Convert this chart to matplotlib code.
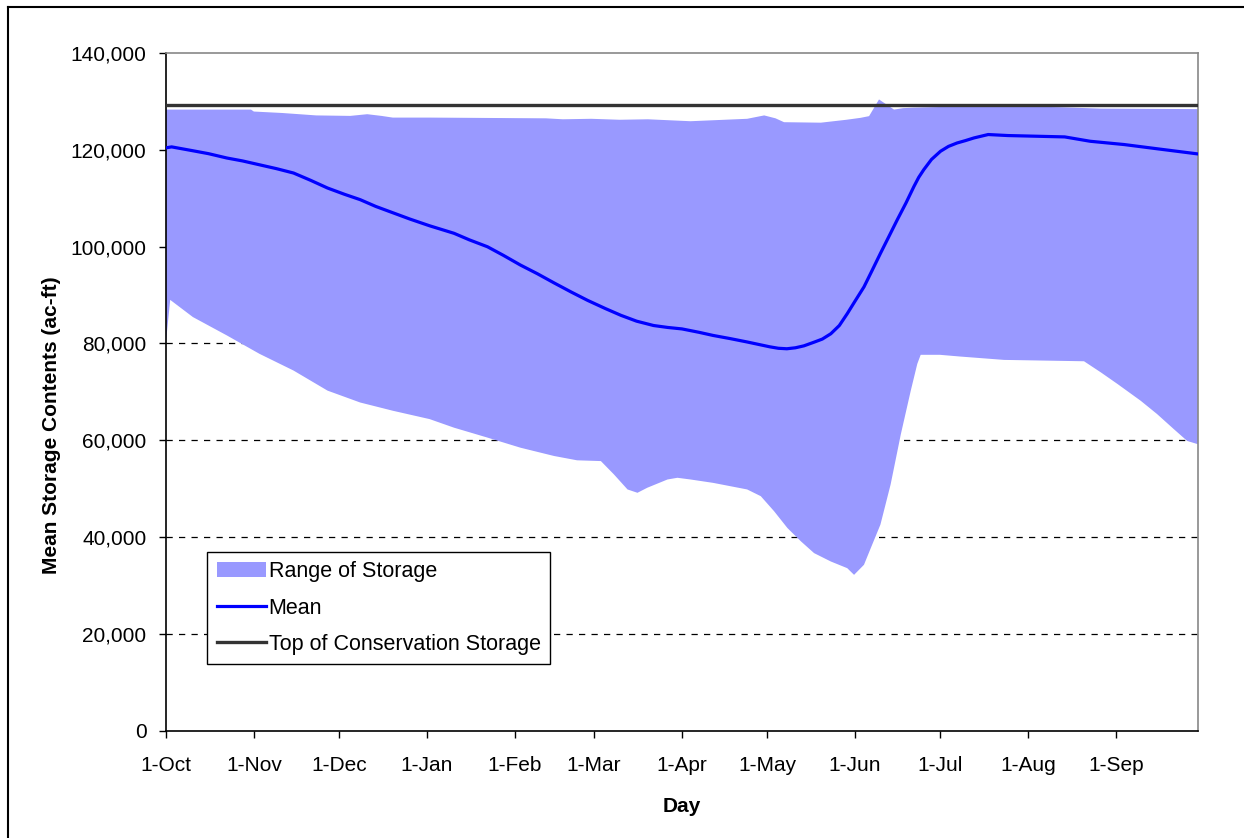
import matplotlib
matplotlib.use("Agg")
import matplotlib.pyplot as plt
from matplotlib.lines import Line2D
from matplotlib.ticker import FuncFormatter
import numpy as np

plt.rcParams['font.family'] = ['Liberation Sans', 'DejaVu Sans']

# DATOS ------------------------------------------
# dia 0 = 1-Oct
sup_dia = [0, 30, 31, 41, 53, 65, 71, 76, 80, 93, 134, 140, 150, 160, 170, 185,
           193, 205, 211, 215, 218, 231, 240, 245, 248, 251.5, 256.8, 260,
           263.8, 276.8, 300, 315, 329.7, 364]
sup_val = [128300, 128300, 127900, 127600, 127100, 127000, 127350, 127000,
           126650, 126650, 126500, 126300, 126400, 126200, 126300, 125900,
           126100, 126400, 127100, 126500, 125700, 125600, 126200, 126600,
           126950, 130400, 128300, 128600, 128700, 128900, 129000, 128800,
           128500, 128400]

inf_dia = [0, 1.5, 9.5, 21.5, 33, 45, 57, 68.5, 80, 93, 101.6, 113.4, 125,
           136.9, 145, 153.4, 158, 162.8, 166.3, 169.8, 176.9, 180.4, 185, 193,
           205, 209.8, 214.5, 219.2, 224, 228.6, 234.5, 240.3, 242.7, 246.2,
           248.6, 252, 255.6, 259.2, 262.7, 265, 266.2, 273, 280, 295.6, 323.8,
           329.7, 335.6, 343.8, 349.6, 355.5, 360.2, 364]
inf_val = [80300, 89000, 85450, 81650, 77850, 74400, 70250, 67800, 66100,
           64370, 62600, 60550, 58470, 56750, 55860, 55700, 52950, 49840,
           49150, 50200, 51900, 52250, 51900, 51200, 49840, 48450, 45340,
           41870, 39100, 36690, 34960, 33580, 32200, 34280, 37730, 42580,
           50880, 61250, 70240, 75780, 77650, 77650, 77300, 76600, 76320,
           74040, 71630, 68160, 65400, 62290, 59860, 59180]

media_dia = [0, 2, 9.5, 15, 21.5, 27, 33, 39, 45, 51, 57, 63, 68.5, 74, 80,
             86, 93, 101.6, 107, 113.4, 119, 125, 131, 136.9, 143, 148.7, 155,
             160.5, 166, 172, 177, 182, 188, 193, 199, 205, 209, 213, 216, 219,
             222, 225, 228.6, 231.5, 234.5, 237.5, 240.3, 243, 246.2, 249, 252,
             255, 257.9, 261, 263.8, 265.5, 267.3, 270, 273.2, 276, 279, 282,
             285, 290, 297, 317, 326, 338, 350, 364]
media_val = [120400, 120600, 119800, 119200, 118300, 117700, 116900, 116100,
             115200, 113700, 112100, 110800, 109700, 108300, 107000, 105700,
             104300, 102750, 101400, 99970, 98200, 96200, 94400, 92500, 90600,
             88900, 87200, 85800, 84600, 83700, 83300, 83000, 82300, 81650,
             81000, 80300, 79800, 79300, 79000, 78900, 79100, 79500, 80260,
             80900, 82000, 83700, 86150, 88700, 91680, 95000, 98600, 102100,
             105500, 109000, 112400, 114300, 115900, 118000, 119700, 120700,
             121400, 121900, 122450, 123150, 122940, 122660, 121760, 121080,
             120180, 119140]

conservacion = 129300

mes_dia = [0, 31, 61, 92, 123, 151, 182, 212, 243, 273, 304, 335]
mes_txt = ['1-Oct', '1-Nov', '1-Dec', '1-Jan', '1-Feb', '1-Mar', '1-Apr',
           '1-May', '1-Jun', '1-Jul', '1-Aug', '1-Sep']

y_ticks = np.arange(0, 140001, 20000)

# GRAFICA ---------------------
fig = plt.figure(figsize=(12.44, 8.38), dpi=100)
ax = fig.add_axes([0.1334, 0.128, 0.8296, 0.8088])

# lineas de division (sin la de 0 ni la de 140,000)
ax.hlines(y_ticks[1:-1], 0, 364, colors='black', lw=0.9,
          linestyles=[(0, (5, 5))], zorder=1)

# area entre maximo y minimo
xs = np.r_[np.array(sup_dia), np.array(inf_dia)[::-1]]
ys = np.r_[np.array(sup_val), np.array(inf_val)[::-1]]
ax.fill(xs, ys, color='#9999FF', lw=0, label='Range of Storage', zorder=2)

ax.plot(media_dia, media_val, color='#0000FF', lw=2.3, label='Mean', zorder=3)
ax.axhline(conservacion, color='#333333', lw=2.4,
           label='Top of Conservation Storage', zorder=4)

ax.set_xlim(0, 364)
ax.set_ylim(0, 140000)
ax.set_yticks(y_ticks)
ax.yaxis.set_major_formatter(FuncFormatter(lambda v, p: '{:,.0f}'.format(v)))
ax.set_xticks(mes_dia)
ax.set_xticklabels(mes_txt)

ax.tick_params(axis='both', direction='out', length=5, width=1,
               labelsize=15, colors='black')
ax.tick_params(axis='x', pad=13)
ax.tick_params(axis='y', pad=9)

for s in ['left', 'bottom']:
    ax.spines[s].set_color('black')
    ax.spines[s].set_linewidth(1.2)
for s in ['top', 'right']:
    ax.spines[s].set_color('#888888')
    ax.spines[s].set_linewidth(1.2)

ax.set_ylabel('Mean Storage Contents (ac-ft)', fontsize=15, fontweight='bold')
ax.yaxis.set_label_coords(-0.102, 0.451)
ax.set_xlabel('Day', fontsize=15, fontweight='bold', labelpad=16)

leg = ax.legend(loc='lower left', bbox_to_anchor=(0.0397, 0.098),
                fontsize=15.5, frameon=True, fancybox=False, shadow=False,
                handlelength=2.3, handletextpad=0.12, borderpad=0.45,
                labelspacing=0.7, borderaxespad=0)
leg.get_frame().set_edgecolor('black')
leg.get_frame().set_linewidth(1)
leg.get_frame().set_alpha(1)

# marco exterior (solo bordes superior e izquierdo visibles)
fig.add_artist(Line2D([8 / 1244, 1], [1 - 7 / 838, 1 - 7 / 838],
                      color='black', lw=1.5, transform=fig.transFigure))
fig.add_artist(Line2D([8 / 1244, 8 / 1244], [0, 1 - 7 / 838],
                      color='black', lw=1.5, transform=fig.transFigure))

fig.savefig('out.png', dpi=100)
